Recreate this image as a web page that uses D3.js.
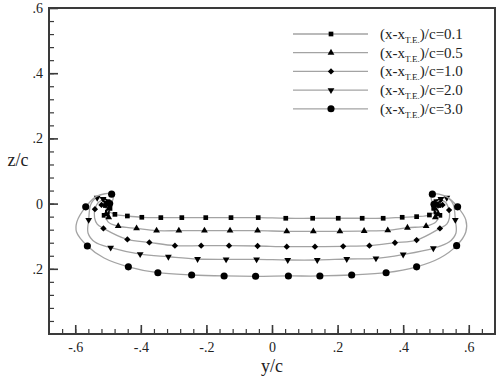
<!DOCTYPE html>
<html>
<head>
<meta charset="utf-8">
<script src="https://cdn.jsdelivr.net/npm/d3@7"></script>
<style>
  body { margin: 0; background: #fff; }
  svg { display: block; }
  text { font-family: "Liberation Serif", "Times New Roman", "DejaVu Serif", serif; }
</style>
</head>
<body>
<div id="chart"></div>
<script>
// x ticks / y ticks as shown in the picture
var xTickValues = [-0.6, -0.4, -0.2, 0, 0.2, 0.4, 0.6];
var xTickLabels = ["-.6", "-.4", "-.2", "0", ".2", ".4", ".6"];
var yTickValues = [-0.2, 0, 0.2, 0.4, 0.6];
var yTickLabels = [".2", "0", ".2", ".4", ".6"];

var seriesNames = ["0.1", "0.5", "1.0", "2.0", "3.0"];

// (y/c, z/c) along each curve, and the points that carry a marker
var s1Line = [[-0.500,0.006],[-0.508,-0.006],[-0.502,-0.020],[-0.479,-0.033],[-0.441,-0.038],[-0.397,-0.042],[-0.339,-0.043],[-0.275,-0.043],[-0.202,-0.043],[-0.125,-0.043],[-0.042,-0.043],[0.042,-0.045],[0.124,-0.045],[0.202,-0.045],[0.275,-0.045],[0.339,-0.045],[0.397,-0.042],[0.441,-0.040],[0.480,-0.035],[0.503,-0.020],[0.509,-0.006],[0.500,0.006]];
var s1Marks = [[-0.500,0.006],[-0.508,-0.006],[-0.494,-0.014],[-0.502,-0.026],[-0.512,-0.036],[-0.479,-0.033],[-0.441,-0.038],[-0.397,-0.042],[-0.339,-0.043],[-0.275,-0.043],[-0.202,-0.043],[-0.125,-0.043],[-0.042,-0.043],[0.042,-0.045],[0.124,-0.045],[0.202,-0.045],[0.275,-0.045],[0.339,-0.045],[0.397,-0.042],[0.441,-0.040],[0.480,-0.035],[0.512,-0.036],[0.500,-0.026],[0.493,-0.014],[0.509,-0.006],[0.500,0.006]];

var s2Line = [[-0.505,0.000],[-0.497,-0.015],[-0.506,-0.032],[-0.500,-0.056],[-0.469,-0.069],[-0.413,-0.076],[-0.352,-0.083],[-0.284,-0.083],[-0.206,-0.083],[-0.128,-0.083],[-0.044,-0.083],[0.045,-0.085],[0.126,-0.085],[0.207,-0.085],[0.281,-0.084],[0.353,-0.082],[0.413,-0.074],[0.470,-0.069],[0.500,-0.056],[0.507,-0.032],[0.497,-0.015],[0.503,0.002]];
var s2Marks = [[-0.505,0.000],[-0.497,-0.015],[-0.506,-0.032],[-0.498,-0.042],[-0.469,-0.069],[-0.413,-0.076],[-0.352,-0.083],[-0.284,-0.083],[-0.206,-0.083],[-0.128,-0.083],[-0.044,-0.083],[0.045,-0.085],[0.126,-0.085],[0.207,-0.085],[0.281,-0.084],[0.353,-0.082],[0.413,-0.074],[0.470,-0.069],[0.498,-0.042],[0.507,-0.032],[0.497,-0.015],[0.503,0.002]];

var s3Line = [[-0.497,-0.002],[-0.510,0.010],[-0.528,0.005],[-0.540,-0.017],[-0.541,-0.044],[-0.533,-0.063],[-0.514,-0.076],[-0.441,-0.110],[-0.374,-0.119],[-0.296,-0.129],[-0.216,-0.129],[-0.131,-0.129],[-0.044,-0.130],[0.045,-0.132],[0.131,-0.132],[0.217,-0.131],[0.297,-0.129],[0.375,-0.120],[0.441,-0.112],[0.512,-0.076],[0.533,-0.063],[0.541,-0.044],[0.540,-0.020],[0.528,0.005],[0.512,0.010],[0.495,-0.003]];
var s3Marks = [[-0.497,-0.002],[-0.510,0.010],[-0.520,-0.004],[-0.540,-0.017],[-0.514,-0.076],[-0.441,-0.110],[-0.374,-0.119],[-0.296,-0.129],[-0.216,-0.129],[-0.131,-0.129],[-0.044,-0.130],[0.045,-0.132],[0.131,-0.132],[0.217,-0.131],[0.297,-0.129],[0.375,-0.120],[0.441,-0.112],[0.512,-0.076],[0.540,-0.020],[0.520,-0.004],[0.512,0.010],[0.495,-0.003]];

var s4Line = [[-0.503,0.002],[-0.515,0.014],[-0.533,0.018],[-0.552,-0.001],[-0.559,-0.050],[-0.561,-0.090],[-0.540,-0.118],[-0.492,-0.135],[-0.402,-0.155],[-0.316,-0.163],[-0.227,-0.170],[-0.140,-0.171],[-0.047,-0.171],[0.048,-0.173],[0.138,-0.173],[0.228,-0.170],[0.317,-0.168],[0.400,-0.156],[0.492,-0.137],[0.540,-0.118],[0.561,-0.090],[0.559,-0.050],[0.552,-0.001],[0.533,0.018],[0.515,0.014],[0.500,0.000]];
var s4Marks = [[-0.503,0.002],[-0.515,0.014],[-0.533,0.018],[-0.559,-0.050],[-0.492,-0.135],[-0.402,-0.155],[-0.316,-0.163],[-0.227,-0.170],[-0.140,-0.171],[-0.047,-0.171],[0.048,-0.173],[0.138,-0.173],[0.228,-0.170],[0.317,-0.168],[0.400,-0.156],[0.492,-0.137],[0.559,-0.050],[0.533,0.018],[0.515,0.014],[0.500,0.000]];

var s5Line = [[-0.495,0.000],[-0.485,0.012],[-0.489,0.029],[-0.534,0.023],[-0.568,-0.010],[-0.595,-0.056],[-0.596,-0.087],[-0.563,-0.130],[-0.512,-0.167],[-0.438,-0.194],[-0.348,-0.212],[-0.245,-0.219],[-0.146,-0.222],[-0.050,-0.223],[0.050,-0.222],[0.146,-0.222],[0.243,-0.219],[0.348,-0.212],[0.441,-0.194],[0.512,-0.167],[0.563,-0.129],[0.591,-0.087],[0.591,-0.050],[0.566,-0.010],[0.534,0.020],[0.489,0.029],[0.486,0.012],[0.494,-0.002]];
var s5Marks = [[-0.495,0.000],[-0.489,0.029],[-0.568,-0.010],[-0.563,-0.130],[-0.438,-0.194],[-0.348,-0.212],[-0.245,-0.219],[-0.146,-0.222],[-0.050,-0.223],[0.050,-0.222],[0.146,-0.222],[0.243,-0.219],[0.348,-0.212],[0.441,-0.194],[0.563,-0.129],[0.566,-0.010],[0.489,0.029],[0.494,-0.002]];

var series = [
  {name: seriesNames[0], line: s1Line, marks: s1Marks, symbol: d3.symbolSquare, size: 22, rot: 0},
  {name: seriesNames[1], line: s2Line, marks: s2Marks, symbol: d3.symbolTriangle, size: 20, rot: 0},
  {name: seriesNames[2], line: s3Line, marks: s3Marks, symbol: d3.symbolSquare, size: 20, rot: 45},
  {name: seriesNames[3], line: s4Line, marks: s4Marks, symbol: d3.symbolTriangle, size: 20, rot: 180},
  {name: seriesNames[4], line: s5Line, marks: s5Marks, symbol: d3.symbolCircle, size: 40, rot: 0}
];

var W = 503, H = 377;
var frame = {left: 49, right: 495, top: 8, bottom: 334};
var axisColor = "#3a3a3a";

var svg = d3.select("#chart").append("svg")
    .attr("width", W)
    .attr("height", H);

var x = d3.scaleLinear().domain([-0.68, 0.68]).range([frame.left, frame.right]);
var y = d3.scaleLinear().domain([-0.4, 0.6]).range([frame.bottom, frame.top]);

// minor ticks
svg.append("g")
    .attr("transform", "translate(0," + frame.bottom + ")")
    .call(d3.axisBottom(x).tickValues(d3.range(-0.64, 0.66, 0.04)).tickSize(-5).tickFormat(""))
    .call(function(g) { g.select(".domain").remove(); g.selectAll("line").attr("stroke", axisColor).attr("stroke-width", 1.2); });
svg.append("g")
    .attr("transform", "translate(" + frame.left + ",0)")
    .call(d3.axisLeft(y).tickValues(d3.range(-0.36, 0.58, 0.04)).tickSize(-5).tickFormat(""))
    .call(function(g) { g.select(".domain").remove(); g.selectAll("line").attr("stroke", axisColor).attr("stroke-width", 1.2); });

// major ticks + labels
svg.append("g")
    .attr("transform", "translate(0," + frame.bottom + ")")
    .call(d3.axisBottom(x).tickValues(xTickValues).tickSize(-9).tickPadding(8)
      .tickFormat(function(d, i) { return xTickLabels[i]; }))
    .call(function(g) {
      g.select(".domain").remove();
      g.selectAll("line").attr("stroke", axisColor).attr("stroke-width", 1.6);
      g.selectAll("text").attr("font-size", "14px").attr("fill", "#222");
    });
svg.append("g")
    .attr("transform", "translate(" + frame.left + ",0)")
    .call(d3.axisLeft(y).tickValues(yTickValues).tickSize(-9).tickPadding(6)
      .tickFormat(function(d, i) { return yTickLabels[i]; }))
    .call(function(g) {
      g.select(".domain").remove();
      g.selectAll("line").attr("stroke", axisColor).attr("stroke-width", 1.6);
      g.selectAll("text").attr("font-size", "14px").attr("fill", "#222");
    });
svg.selectAll("g").attr("font-family", null);

// frame
svg.append("rect")
    .attr("x", frame.left)
    .attr("y", frame.top)
    .attr("width", frame.right - frame.left)
    .attr("height", frame.bottom - frame.top)
    .attr("fill", "none")
    .attr("stroke", axisColor)
    .attr("stroke-width", 2);

// axis titles
svg.append("text")
    .attr("x", x(0))
    .attr("y", 372)
    .attr("text-anchor", "middle")
    .attr("font-size", "18px")
    .attr("fill", "#222")
    .text("y/c");
svg.append("text")
    .attr("x", 18)
    .attr("y", 166)
    .attr("text-anchor", "middle")
    .attr("font-size", "18px")
    .attr("fill", "#222")
    .text("z/c");

var line = d3.line()
    .x(function(d) { return x(d[0]); })
    .y(function(d) { return y(d[1]); })
    .curve(d3.curveCatmullRom.alpha(0.5));

function drawMarker(sel, s) {
  sel.attr("d", d3.symbol().type(s.symbol).size(s.size))
     .attr("fill", "#000");
}

series.forEach(function(s) {
  var g = svg.append("g");
  g.append("path")
      .datum(s.line)
      .attr("d", line)
      .attr("fill", "none")
      .attr("stroke", "#a3a3a3")
      .attr("stroke-width", 1.3);
  g.selectAll("path.mark")
      .data(s.marks)
      .enter()
      .append("path")
        .attr("class", "mark")
        .attr("transform", function(d) {
          return "translate(" + x(d[0]) + "," + y(d[1]) + ") rotate(" + s.rot + ")";
        })
        .call(drawMarker, s);
});

// legend
var legend = svg.append("g").attr("transform", "translate(293,34)");
series.forEach(function(s, i) {
  var row = legend.append("g").attr("transform", "translate(0," + (i * 18.7) + ")");
  row.append("line")
      .attr("x1", 0).attr("x2", 75)
      .attr("stroke", "#a3a3a3")
      .attr("stroke-width", 1.3);
  row.append("path")
      .attr("transform", "translate(38,0) rotate(" + s.rot + ")")
      .call(drawMarker, s);
  var t = row.append("text")
      .attr("x", 87)
      .attr("y", 5)
      .attr("font-size", "15px")
      .attr("fill", "#222");
  t.append("tspan").text("(x-x");
  t.append("tspan").attr("font-size", "9px").attr("dy", 4).text("T.E.");
  t.append("tspan").attr("dy", -4).text(")/c=" + s.name);
});
</script>
</body>
</html>
